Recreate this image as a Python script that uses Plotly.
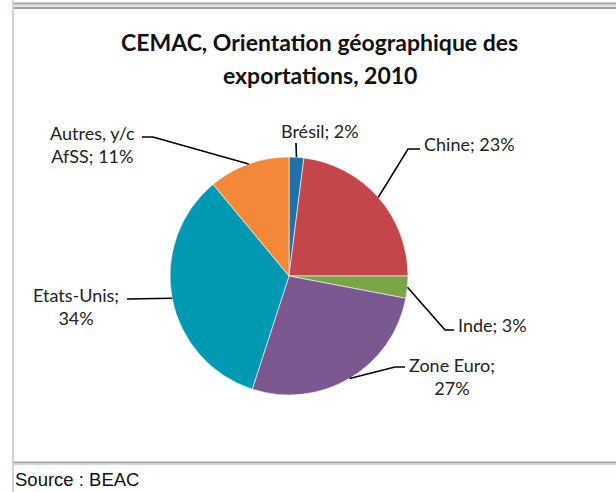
import math
import plotly.graph_objects as go

W, H = 616, 492

labels = ["Brésil", "Chine", "Inde", "Zone Euro", "Etats-Unis", "Autres, y/c AfSS"]
values = [2, 23, 3, 27, 34, 11]
colors = ["#2270a9", "#c2464a", "#79a546", "#7c5892", "#0099b3", "#f38938"]
label_texts = ["Brésil; 2%", "Chine; 23%", "Inde; 3%", "Zone Euro;<br>27%",
               "Etats-Unis;<br>34%", "Autres, y/c<br>AfSS; 11%"]
title_lines = ["CEMAC, Orientation géographique des", "exportations, 2010"]
source_text = "Source : BEAC"

# layout (pixels)
CX, CY, R = 289, 276, 119
elbows = [(296, 143), (408, 149), (445, 330), (395, 367), (127, 299), (153, 137)]
ends = [(296, 143), (420, 149), (454, 330), (405, 367), (127, 299), (142, 137)]
text_pos = [(320, 131, "center"), (422, 144, "left"), (456, 325, "left"),
            (452, 376, "center"), (76, 306, "center"), (92, 144, "center")]

def px(x):
    return x / W

def py(y):
    return 1 - y / H

fig = go.Figure(go.Pie(
    labels=labels, values=values, sort=False, direction="clockwise", rotation=0,
    marker=dict(colors=colors, line=dict(color="white", width=0.6)),
    textinfo="none", hoverinfo="label+percent", showlegend=False,
    domain=dict(x=[px(CX - R), px(CX + R)], y=[py(CY + R), py(CY - R)]),
))

shapes = []
annotations = []
total = sum(values)
cum = 0
for i, v in enumerate(values):
    mid = (cum + v / 2) / total * 2 * math.pi
    cum += v
    sx = CX + R * math.sin(mid)
    sy = CY - R * math.cos(mid)
    ex, ey = elbows[i]
    fx, fy = ends[i]
    path = f"M {px(sx)},{py(sy)} L {px(ex)},{py(ey)} L {px(fx)},{py(fy)}"
    shapes.append(dict(type="path", xref="paper", yref="paper", path=path,
                       line=dict(color="black", width=1.6)))
    tx, ty, anc = text_pos[i]
    annotations.append(dict(x=px(tx), y=py(ty), xref="paper", yref="paper",
                            text=label_texts[i], showarrow=False, xanchor=anc,
                            yanchor="middle", align="center",
                            font=dict(family="Lato", size=18, color="#222222")))

# frame lines
for y, c in [(3.5, "#a3a3a3"), (5.5, "#d0d8e6"), (8, "#a3a3a3")]:
    shapes.append(dict(type="line", xref="paper", yref="paper", x0=px(14), x1=1,
                       y0=py(y), y1=py(y), line=dict(color=c, width=2)))
shapes.append(dict(type="line", xref="paper", yref="paper", x0=px(13), x1=px(13),
                   y0=0, y1=1, line=dict(color="#cbd3e3", width=2)))
shapes.append(dict(type="line", xref="paper", yref="paper", x0=px(14), x1=1,
                   y0=py(462.5), y1=py(462.5), line=dict(color="#a3a3a3", width=2)))
shapes.append(dict(type="line", xref="paper", yref="paper", x0=px(14), x1=1,
                   y0=py(464.5), y1=py(464.5), line=dict(color="#d0d8e6", width=1)))

for t, y in zip(title_lines, [42, 75]):
    annotations.append(dict(x=px(320), y=py(y), xref="paper", yref="paper",
                            text=f"<b>{t}</b>", showarrow=False, xanchor="center",
                            yanchor="middle", align="center",
                            font=dict(family="Lato", size=23, color="#111111")))
annotations.append(dict(x=px(13), y=py(479), xref="paper", yref="paper",
                        text=source_text, showarrow=False, xanchor="left", yanchor="middle",
                        font=dict(family="Liberation Sans", size=18.5, color="#111111")))

fig.update_layout(width=W, height=H, margin=dict(l=0, r=0, t=0, b=0),
                  paper_bgcolor="white", plot_bgcolor="white",
                  shapes=shapes, annotations=annotations)

fig.write_html("out.html", config={"displayModeBar": False},
               post_script="document.body.style.margin='0';document.body.style.overflow='hidden';")
